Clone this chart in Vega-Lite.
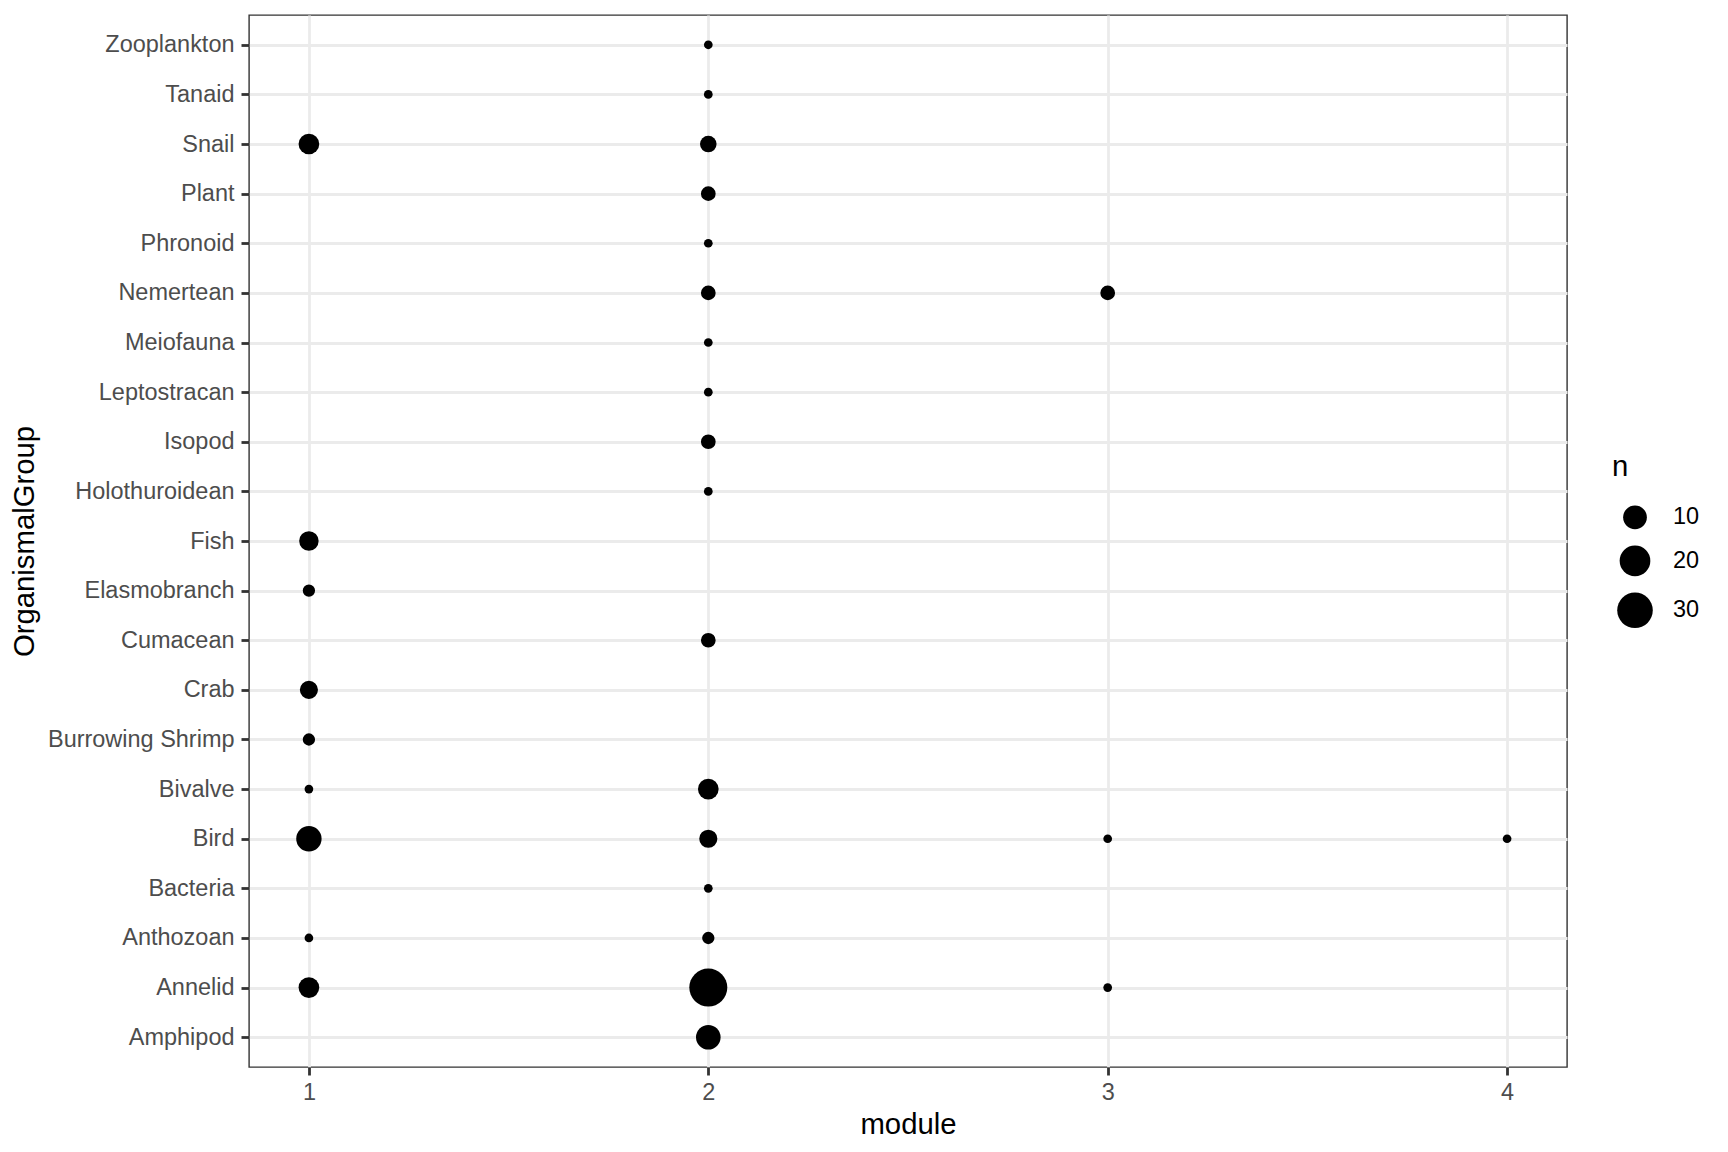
{
  "$schema": "https://vega.github.io/schema/vega-lite/v6.json",
  "width": 1318,
  "height": 1052,
  "autosize": {"type": "none"},
  "padding": {"left": 249, "top": 15, "right": 161, "bottom": 85},
  "background": "white",
  "config": {
    "font": "Liberation Sans",
    "view": {"stroke": "#333333", "strokeWidth": 1.4},
    "axis": {
      "domain": false,
      "grid": true,
      "gridColor": "#EBEBEB",
      "gridWidth": 2.8,
      "tickColor": "#333333",
      "tickWidth": 2.8,
      "tickSize": 8,
      "labelColor": "#4D4D4D",
      "labelFontSize": 23.47,
      "labelFont": "Liberation Sans",
      "labelLimit": 400,
      "titleFont": "Liberation Sans",
      "titleFontSize": 29.3,
      "titleFontWeight": "normal",
      "titleColor": "#000000"
    },
    "legend": {
      "titleFont": "Liberation Sans",
      "labelFont": "Liberation Sans",
      "titleFontSize": 29.3,
      "titleFontWeight": "normal",
      "labelFontSize": 23.47,
      "labelColor": "#000000",
      "titleColor": "#000000"
    }
  },
  "data": {
    "values": [
      {"OrganismalGroup": "Zooplankton", "module": 2, "n": 1},
      {"OrganismalGroup": "Tanaid", "module": 2, "n": 1},
      {"OrganismalGroup": "Snail", "module": 1, "n": 7},
      {"OrganismalGroup": "Snail", "module": 2, "n": 4},
      {"OrganismalGroup": "Plant", "module": 2, "n": 3},
      {"OrganismalGroup": "Phronoid", "module": 2, "n": 1},
      {"OrganismalGroup": "Nemertean", "module": 2, "n": 3},
      {"OrganismalGroup": "Nemertean", "module": 3, "n": 3},
      {"OrganismalGroup": "Meiofauna", "module": 2, "n": 1},
      {"OrganismalGroup": "Leptostracan", "module": 2, "n": 1},
      {"OrganismalGroup": "Isopod", "module": 2, "n": 3},
      {"OrganismalGroup": "Holothuroidean", "module": 2, "n": 1},
      {"OrganismalGroup": "Fish", "module": 1, "n": 6},
      {"OrganismalGroup": "Elasmobranch", "module": 1, "n": 2},
      {"OrganismalGroup": "Cumacean", "module": 2, "n": 3},
      {"OrganismalGroup": "Crab", "module": 1, "n": 5},
      {"OrganismalGroup": "Burrowing Shrimp", "module": 1, "n": 2},
      {"OrganismalGroup": "Bivalve", "module": 1, "n": 1},
      {"OrganismalGroup": "Bivalve", "module": 2, "n": 7},
      {"OrganismalGroup": "Bird", "module": 1, "n": 12},
      {"OrganismalGroup": "Bird", "module": 2, "n": 5},
      {"OrganismalGroup": "Bird", "module": 3, "n": 1},
      {"OrganismalGroup": "Bird", "module": 4, "n": 1},
      {"OrganismalGroup": "Bacteria", "module": 2, "n": 1},
      {"OrganismalGroup": "Anthozoan", "module": 1, "n": 1},
      {"OrganismalGroup": "Anthozoan", "module": 2, "n": 2},
      {"OrganismalGroup": "Annelid", "module": 1, "n": 7},
      {"OrganismalGroup": "Annelid", "module": 2, "n": 36},
      {"OrganismalGroup": "Annelid", "module": 3, "n": 1},
      {"OrganismalGroup": "Amphipod", "module": 2, "n": 11}
    ]
  },
  "mark": {"type": "point", "filled": true, "shape": "circle", "color": "#000000", "opacity": 1, "strokeWidth": 0},
  "encoding": {
    "x": {
      "field": "module",
      "type": "quantitative",
      "scale": {"domain": [0.85, 4.15], "nice": false, "zero": false},
      "axis": {"values": [1, 2, 3, 4], "format": "d", "labelPadding": 5, "titlePadding": 7, "title": "module"}
    },
    "y": {
      "field": "OrganismalGroup",
      "type": "nominal",
      "sort": "descending",
      "scale": {"type": "point", "padding": 0.6},
      "axis": {"labelPadding": 7, "titlePadding": 10, "title": "OrganismalGroup"}
    },
    "size": {
      "field": "n",
      "type": "quantitative",
      "scale": {"type": "pow", "exponent": 0.7, "domain": [1, 36], "range": [76, 1444], "zero": false},
      "legend": {
        "values": [10, 20, 30],
        "title": "n",
        "orient": "none",
        "legendX": 1363,
        "legendY": 438,
        "titlePadding": 23,
        "rowPadding": 16,
        "symbolOffset": 5,
        "labelOffset": 20,
        "symbolFillColor": "#000000",
        "symbolStrokeWidth": 0,
        "symbolOpacity": 1
      }
    }
  }
}
